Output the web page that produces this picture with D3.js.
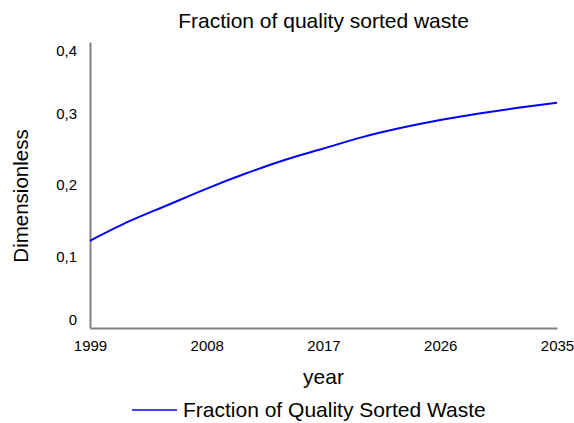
<!DOCTYPE html>
<html>
<head>
<meta charset="utf-8">
<script src="https://cdn.jsdelivr.net/npm/d3@7"></script>
<style>
  body { margin: 0; background: #fff; }
  text { font-family: "Liberation Sans", Arial, sans-serif; fill: #000; }
</style>
</head>
<body>
<div id="chart"></div>
<script>
// data
const years = [1999, 2002, 2005, 2008, 2011, 2014, 2017, 2020, 2023, 2026, 2029, 2032, 2035];
const fractionSorted = [0.122, 0.149, 0.172, 0.195, 0.216, 0.235, 0.251, 0.267, 0.280, 0.291, 0.300, 0.308, 0.315];
const xTicks = [1999, 2008, 2017, 2026, 2035];
const yTicks = [0, 0.1, 0.2, 0.3, 0.4];
const seriesName = "Fraction of Quality Sorted Waste";

const width = 574, height = 423;
const margin = { top: 42, right: 17, bottom: 95, left: 90 };

const svg = d3.select("#chart").append("svg")
  .attr("width", width)
  .attr("height", height)
  .attr("viewBox", [0, 0, width, height]);

const x = d3.scaleLinear()
  .domain([1999, 2035])
  .range([margin.left, width - margin.right]);

const y = d3.scaleLinear()
  .domain([0, 0.4])
  .range([height - margin.bottom, margin.top]);

// title
svg.append("text")
  .attr("x", (x.range()[0] + x.range()[1]) / 2)
  .attr("y", 28)
  .attr("text-anchor", "middle")
  .style("font-size", "21px")
  .text("Fraction of quality sorted waste");

// x axis
const xAxis = svg.append("g")
  .attr("transform", `translate(0,${y(0)})`)
  .call(d3.axisBottom(x).tickValues(xTicks).tickFormat(d3.format("d")).tickSize(0).tickPadding(12));
xAxis.select(".domain").attr("stroke", "#808080").attr("stroke-width", 2);
xAxis.selectAll("text").style("font-size", "15px").style("font-family", "Liberation Sans, Arial, sans-serif");

// y axis
const fmt = (d) => d === 0 ? "0" : d3.format(".1f")(d).replace(".", ",");
const yAxis = svg.append("g")
  .attr("transform", `translate(${x(1999)},0)`)
  .call(d3.axisLeft(y).tickValues(yTicks).tickFormat(fmt).tickSize(0).tickPadding(13));
yAxis.select(".domain").attr("stroke", "#808080").attr("stroke-width", 2);
yAxis.selectAll("text")
  .style("font-size", "15px")
  .style("font-family", "Liberation Sans, Arial, sans-serif")
  .attr("dy", (d) => d === 0 ? "-0.25em" : d === 0.4 ? "0.9em" : "0.32em");

// axis titles
svg.append("text")
  .attr("x", (x.range()[0] + x.range()[1]) / 2)
  .attr("y", 384)
  .attr("text-anchor", "middle")
  .style("font-size", "21px")
  .text("year");

svg.append("text")
  .attr("transform", `translate(28,196) rotate(-90)`)
  .attr("text-anchor", "middle")
  .style("font-size", "20.5px")
  .text("Dimensionless");

// line
const line = d3.line()
  .x((d, i) => x(years[i]))
  .y((d) => y(d))
  .curve(d3.curveMonotoneX);

svg.append("path")
  .datum(fractionSorted)
  .attr("fill", "none")
  .attr("stroke", "#0000ff")
  .attr("stroke-width", 2)
  .attr("d", line);

// legend
const legend = svg.append("g").attr("transform", "translate(132,410)");
legend.append("line")
  .attr("x1", 0).attr("x2", 45)
  .attr("stroke", "#0000ff")
  .attr("stroke-width", 1.5);
legend.append("text")
  .attr("x", 51)
  .attr("y", 7)
  .style("font-size", "21px")
  .text(seriesName);
</script>
</body>
</html>
